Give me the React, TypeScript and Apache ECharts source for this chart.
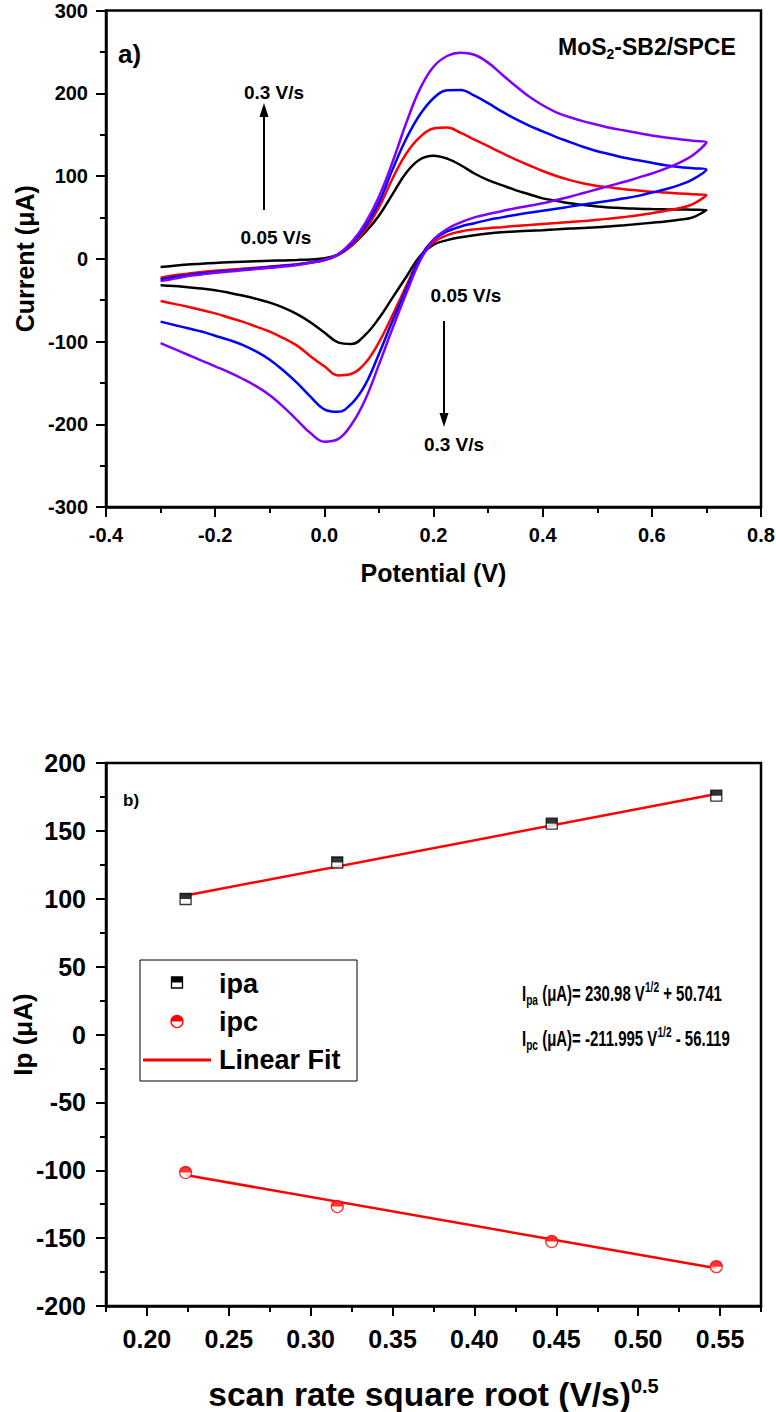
import React, { useEffect, useRef } from 'react';
import * as echarts from 'echarts';

const FONT = '"Liberation Sans", Arial, sans-serif';

// ---------- Chart a) cyclic voltammograms ----------
const scanRates = ['0.05 V/s', '0.1 V/s', '0.2 V/s', '0.3 V/s'];
const curveColors = ['#000000', '#ff0000', '#0000ff', '#8000ff'];

// forward (anodic) scan potentials, V (-0.3 -> 0.7)
const fwdE = [-0.3, -0.275, -0.25, -0.225, -0.2, -0.175, -0.15, -0.125, -0.1, -0.075, -0.05, -0.025, 0, 0.025, 0.05, 0.075, 0.1, 0.125, 0.15, 0.175, 0.2, 0.225, 0.25, 0.275, 0.3, 0.325, 0.35, 0.375, 0.4, 0.425, 0.45, 0.475, 0.5, 0.525, 0.55, 0.575, 0.6, 0.625, 0.65, 0.675, 0.7];
// reverse (cathodic) scan potentials, V (0.7 -> -0.3)
const revE = [0.7, 0.675, 0.65, 0.625, 0.6, 0.575, 0.55, 0.525, 0.5, 0.475, 0.45, 0.425, 0.4, 0.375, 0.35, 0.325, 0.3, 0.275, 0.25, 0.225, 0.2, 0.175, 0.15, 0.125, 0.1, 0.075, 0.05, 0.025, 0, -0.025, -0.05, -0.075, -0.1, -0.125, -0.15, -0.175, -0.2, -0.225, -0.25, -0.275, -0.3];

const fwd005 = [-10, -8.5, -7, -6, -5, -4.2, -3.5, -3, -2.5, -2, -1.5, -0.8, 0.5, 5, 16, 32, 52, 78, 104, 120, 124.5, 121, 113, 103, 95, 89, 83, 78, 73, 70, 67, 65, 63, 62, 61, 60.5, 60, 59.7, 59.5, 59.3, 59];
const rev005 = [59, 50, 47, 45, 43.5, 42, 40.5, 39.2, 38, 37.2, 36.5, 35.5, 34.5, 33.7, 33, 32, 30.5, 28.5, 26, 22.5, 17, 3, -22, -47, -72, -92, -103, -101, -89, -77, -67, -59, -53, -48.5, -44.5, -41, -38, -36, -34.5, -33, -32];

const fwd01 = [-23, -20, -18, -16, -14.5, -13.2, -12, -10.8, -9.5, -8, -6.5, -4.5, -1.5, 4.5, 16, 35, 62, 97, 127, 147, 157.5, 158.5, 152, 144, 136, 128, 120, 113, 106, 100, 95, 91, 88, 86, 84, 82.5, 81, 80, 79, 78, 77];
const rev01 = [77, 66, 61, 58, 55, 52.5, 50.5, 48.7, 47, 45.7, 44.5, 43.2, 42, 40.7, 39.5, 38.2, 37, 35.5, 33, 28.5, 20, 1, -33, -68, -101, -126, -139, -141, -130, -118, -105, -96, -88, -82, -76, -71, -66, -62, -58, -54.5, -51];

const fwd02 = [-25, -22, -19.5, -17.5, -16, -14.5, -13, -11.5, -10, -8.5, -7, -4.5, -1.5, 5, 18, 39, 68, 108, 145, 174, 194, 203.5, 204, 197, 188, 178, 169, 161, 154, 147, 141, 135, 130, 126, 122, 119, 116, 113, 111, 109.5, 108];
const rev02 = [108, 96, 89, 84, 80, 76, 73, 70.5, 68, 65.5, 63, 60.5, 58, 55.5, 53, 50, 47, 43, 39, 33, 23, 1, -37, -75, -115, -152, -175, -185, -182, -167, -150, -135, -122, -112, -104, -98, -93, -88, -84, -80, -76];

const fwd03 = [-27, -24, -21, -19, -17, -15.5, -14, -12.5, -11, -9.5, -7.5, -5, -1.5, 5.5, 20, 43, 75, 117, 164, 205, 232, 245, 249, 246.5, 237, 223, 209, 196, 185.5, 177, 171, 166, 162, 158, 155, 152, 149, 146.5, 144.5, 142.5, 141];
const rev03 = [141, 125, 116, 109, 103, 98, 93, 88.5, 84, 79.5, 75, 71, 67, 64, 61, 57.5, 54, 50, 44, 36, 23, -3, -42, -84, -128, -170, -200, -218, -221, -211, -195, -179, -165, -154, -145, -137, -130, -123, -116, -109, -102];

const forwardScans = [fwd005, fwd01, fwd02, fwd03];
const reverseScans = [rev005, rev01, rev02, rev03];

// ---------- Chart b) peak currents vs sqrt(scan rate) ----------
const sqrtRate = [0.2236, 0.3162, 0.4472, 0.5477];
const ipa = [99.8, 126.7, 155.3, 175.9];
const ipc = [-101.7, -126.7, -152.5, -171.0];
const fitX = [0.2236, 0.5477];
const fitIpa = [102.4, 177.2];
const fitIpc = [-103.5, -172.2];
const xMajorB = [0.2, 0.25, 0.3, 0.35, 0.4, 0.45, 0.5, 0.55];
const xMinorB = [0.175, 0.225, 0.275, 0.325, 0.375, 0.425, 0.475, 0.525, 0.575];

const axisLine = { show: true, onZero: false, lineStyle: { color: '#000', width: 2.5 } };

const eqRich = {
  n: { fill: '#000', fontFamily: FONT, fontWeight: 'bold', fontSize: 22, lineHeight: 28 },
  b: { fill: '#000', fontFamily: FONT, fontWeight: 'bold', fontSize: 15, lineHeight: 15, verticalAlign: 'bottom' },
  p: { fill: '#000', fontFamily: FONT, fontWeight: 'bold', fontSize: 15, lineHeight: 15, verticalAlign: 'top' },
};

export default function App() {
  const ref = useRef<HTMLDivElement>(null);
  useEffect(() => {
    document.body.style.margin = '0';
    const chart = echarts.init(ref.current!, null, { renderer: 'svg' });

    const cvSeries = scanRates.map((name, i) => ({
      name,
      type: 'line',
      xAxisIndex: 0,
      yAxisIndex: 0,
      showSymbol: false,
      smooth: 0.4,
      lineStyle: { color: curveColors[i], width: 2.5 },
      itemStyle: { color: curveColors[i] },
      data: [
        ...fwdE.map((e, k) => [e, forwardScans[i][k]]),
        ...revE.map((e, k) => [e, reverseScans[i][k]]),
      ],
      z: 2 + i,
    }));

    const tickLabelA = { color: '#000', fontFamily: FONT, fontWeight: 'bold', fontSize: 20 };
    const tickLabelB = { color: '#000', fontFamily: FONT, fontWeight: 'bold', fontSize: 25 };
    const annot = { fill: '#000', fontFamily: FONT, fontWeight: 'bold', fontSize: 19, align: 'center', verticalAlign: 'middle' };

    const option: any = {
      animation: false,
      backgroundColor: '#fff',
      grid: [
        { left: 106, top: 10.5, width: 655, height: 496.5, show: true, borderColor: '#000', borderWidth: 2.5, containLabel: false, outerBoundsMode: 'none' },
        { left: 106, top: 763, width: 655, height: 543, show: true, borderColor: '#000', borderWidth: 2.5, containLabel: false, outerBoundsMode: 'none' },
      ],
      xAxis: [
        {
          type: 'value', gridIndex: 0, min: -0.4, max: 0.8, interval: 0.2,
          name: 'Potential (V)', nameLocation: 'middle', nameGap: 53,
          nameTextStyle: { color: '#000', fontFamily: FONT, fontWeight: 'bold', fontSize: 25 },
          axisLine,
          axisTick: { show: true, inside: false, length: 10, lineStyle: { color: '#000', width: 2 } },
          minorTick: { show: true, splitNumber: 2, length: 6, lineStyle: { color: '#000', width: 2 } },
          axisLabel: { ...tickLabelA, margin: 18, formatter: (v: number) => v.toFixed(1) },
          splitLine: { show: false },
        },
        {
          type: 'value', gridIndex: 1, min: 0.175, max: 0.575,
          name: '{a|scan rate square root (V/s)}{s|0.5}', nameLocation: 'middle', nameGap: 70,
          nameTextStyle: {
            color: '#000', fontFamily: FONT, fontWeight: 'bold', fontSize: 33.5,
            rich: {
              a: { color: '#000', fontFamily: FONT, fontWeight: 'bold', fontSize: 33.5, lineHeight: 36 },
              s: { color: '#000', fontFamily: FONT, fontWeight: 'bold', fontSize: 20, lineHeight: 20, verticalAlign: 'top' },
            },
          },
          axisLine,
          axisTick: { show: true, inside: false, length: 10, customValues: xMajorB, lineStyle: { color: '#000', width: 2 } },
          axisLabel: { ...tickLabelB, margin: 20, customValues: xMajorB, formatter: (v: number) => v.toFixed(2) },
          splitLine: { show: false },
        },
        {
          type: 'value', gridIndex: 1, min: 0.175, max: 0.575, position: 'bottom',
          axisLine: { show: false, onZero: false },
          axisTick: { show: true, inside: false, length: 6, customValues: xMinorB, lineStyle: { color: '#000', width: 2 } },
          axisLabel: { show: false },
          splitLine: { show: false },
        },
      ],
      yAxis: [
        {
          type: 'value', gridIndex: 0, min: -300, max: 300, interval: 100,
          name: 'Current (μA)', nameLocation: 'middle', nameGap: 63,
          nameTextStyle: { color: '#000', fontFamily: FONT, fontWeight: 'bold', fontSize: 25 },
          axisLine,
          axisTick: { show: true, inside: false, length: 10, lineStyle: { color: '#000', width: 2 } },
          minorTick: { show: true, splitNumber: 2, length: 6, lineStyle: { color: '#000', width: 2 } },
          axisLabel: { ...tickLabelA, margin: 18 },
          splitLine: { show: false },
        },
        {
          type: 'value', gridIndex: 1, min: -200, max: 200, interval: 50,
          name: 'Ip (μA)', nameLocation: 'middle', nameGap: 70, nameMoveOverlap: false,
          nameTextStyle: { color: '#000', fontFamily: FONT, fontWeight: 'bold', fontSize: 26 },
          axisLine,
          axisTick: { show: true, inside: false, length: 10, lineStyle: { color: '#000', width: 2 } },
          minorTick: { show: true, splitNumber: 2, length: 6, lineStyle: { color: '#000', width: 2 } },
          axisLabel: { ...tickLabelB, margin: 20 },
          splitLine: { show: false },
        },
      ],
      series: [
        ...cvSeries,
        {
          name: 'Linear Fit (ipa)', type: 'line', xAxisIndex: 1, yAxisIndex: 1, showSymbol: false,
          lineStyle: { color: '#ff0000', width: 2.5 }, data: fitX.map((x, k) => [x, fitIpa[k]]), z: 2,
        },
        {
          name: 'Linear Fit (ipc)', type: 'line', xAxisIndex: 1, yAxisIndex: 1, showSymbol: false,
          lineStyle: { color: '#ff0000', width: 2.5 }, data: fitX.map((x, k) => [x, fitIpc[k]]), z: 2,
        },
        {
          name: 'ipa', type: 'scatter', xAxisIndex: 1, yAxisIndex: 1, symbol: 'rect', symbolSize: 11,
          itemStyle: { color: '#fff', borderColor: '#000', borderWidth: 1.3 },
          data: sqrtRate.map((x, k) => [x, ipa[k]]), z: 3,
        },
        {
          name: 'ipa', type: 'scatter', xAxisIndex: 1, yAxisIndex: 1, symbol: 'path://M0,0L10,0L10,5L0,5Z',
          symbolSize: [11, 5.5], symbolOffset: [0, -2.75], itemStyle: { color: '#000' },
          data: sqrtRate.map((x, k) => [x, ipa[k]]), z: 4,
        },
        {
          name: 'ipc', type: 'scatter', xAxisIndex: 1, yAxisIndex: 1, symbol: 'circle', symbolSize: 12,
          itemStyle: { color: '#fff', borderColor: '#ff0000', borderWidth: 1.3 },
          data: sqrtRate.map((x, k) => [x, ipc[k]]), z: 3,
        },
        {
          name: 'ipc', type: 'scatter', xAxisIndex: 1, yAxisIndex: 1, symbol: 'path://M0,5A5,5,0,0,1,10,5Z',
          symbolSize: [12, 6], symbolOffset: [0, -3], itemStyle: { color: '#ff0000' },
          data: sqrtRate.map((x, k) => [x, ipc[k]]), z: 4,
        },
      ],
      graphic: [
        // chart a annotations
        { type: 'text', x: 118, y: 54, style: { text: 'a)', fill: '#000', fontFamily: FONT, fontWeight: 'bold', fontSize: 26, align: 'left', verticalAlign: 'middle' } },
        {
          type: 'text', x: 558, y: 47,
          style: {
            text: '{a|MoS}{s|2}{a|-SB2/SPCE}', fill: '#000', align: 'left', verticalAlign: 'middle',
            rich: {
              a: { fill: '#000', fontFamily: FONT, fontWeight: 'bold', fontSize: 23, lineHeight: 28 },
              s: { fill: '#000', fontFamily: FONT, fontWeight: 'bold', fontSize: 14, lineHeight: 14, verticalAlign: 'bottom' },
            },
          },
        },
        { type: 'text', x: 274, y: 92, style: { text: '0.3 V/s', ...annot } },
        { type: 'line', shape: { x1: 264, y1: 210, x2: 264, y2: 114 }, style: { stroke: '#000', lineWidth: 2 } },
        { type: 'polygon', shape: { points: [[264, 103], [259.5, 117], [268.5, 117]] }, style: { fill: '#000' } },
        { type: 'text', x: 276, y: 237, style: { text: '0.05 V/s', ...annot } },
        { type: 'text', x: 466, y: 295, style: { text: '0.05 V/s', ...annot } },
        { type: 'line', shape: { x1: 444, y1: 321, x2: 444, y2: 416 }, style: { stroke: '#000', lineWidth: 2 } },
        { type: 'polygon', shape: { points: [[444, 427], [439.5, 413], [448.5, 413]] }, style: { fill: '#000' } },
        { type: 'text', x: 454, y: 444, style: { text: '0.3 V/s', ...annot } },
        // chart b annotations
        { type: 'text', x: 123, y: 800, style: { text: 'b)', fill: '#000', fontFamily: FONT, fontWeight: 'bold', fontSize: 17, align: 'left', verticalAlign: 'middle' } },
        // legend box
        { type: 'rect', shape: { x: 140, y: 960, width: 217, height: 121 }, style: { fill: '#fff', stroke: '#000', lineWidth: 1 }, z: 10 },
        { type: 'rect', shape: { x: 171.5, y: 977, width: 11, height: 11 }, style: { fill: '#fff', stroke: '#000', lineWidth: 1.3 }, z: 11 },
        { type: 'rect', shape: { x: 171.5, y: 977, width: 11, height: 5.5 }, style: { fill: '#000' }, z: 12 },
        { type: 'circle', shape: { cx: 177, cy: 1021.5, r: 6 }, style: { fill: '#fff', stroke: '#ff0000', lineWidth: 1.3 }, z: 11 },
        { type: 'sector', shape: { cx: 177, cy: 1021.5, r: 6, r0: 0, startAngle: Math.PI, endAngle: Math.PI * 2 }, style: { fill: '#ff0000' }, z: 12 },
        { type: 'line', shape: { x1: 143, y1: 1060, x2: 211, y2: 1060 }, style: { stroke: '#ff0000', lineWidth: 3 }, z: 11 },
        { type: 'text', x: 219, y: 984, style: { text: 'ipa', fill: '#000', fontFamily: FONT, fontWeight: 'bold', fontSize: 27, align: 'left', verticalAlign: 'middle' }, z: 11 },
        { type: 'text', x: 219, y: 1022, style: { text: 'ipc', fill: '#000', fontFamily: FONT, fontWeight: 'bold', fontSize: 27, align: 'left', verticalAlign: 'middle' }, z: 11 },
        { type: 'text', x: 219, y: 1060, style: { text: 'Linear Fit', fill: '#000', fontFamily: FONT, fontWeight: 'bold', fontSize: 27, align: 'left', verticalAlign: 'middle' }, z: 11 },
        // fit equations (the reference uses a condensed face, so the text is compressed horizontally)
        {
          type: 'text', x: 522, y: 993, scaleX: 0.68, scaleY: 1,
          style: { text: '{n|I}{b|pa}{n| (μA)= 230.98 V}{p|1/2}{n| + 50.741}', align: 'left', verticalAlign: 'middle', rich: eqRich },
        },
        {
          type: 'text', x: 522, y: 1038, scaleX: 0.68, scaleY: 1,
          style: { text: '{n|I}{b|pc}{n| (μA)= -211.995 V}{p|1/2}{n| - 56.119}', align: 'left', verticalAlign: 'middle', rich: eqRich },
        },
      ],
    };

    chart.setOption(option);
    return () => chart.dispose();
  }, []);

  return <div ref={ref} style={{ position: 'absolute', left: 0, top: 0, width: 776, height: 1412 }} />;
}
